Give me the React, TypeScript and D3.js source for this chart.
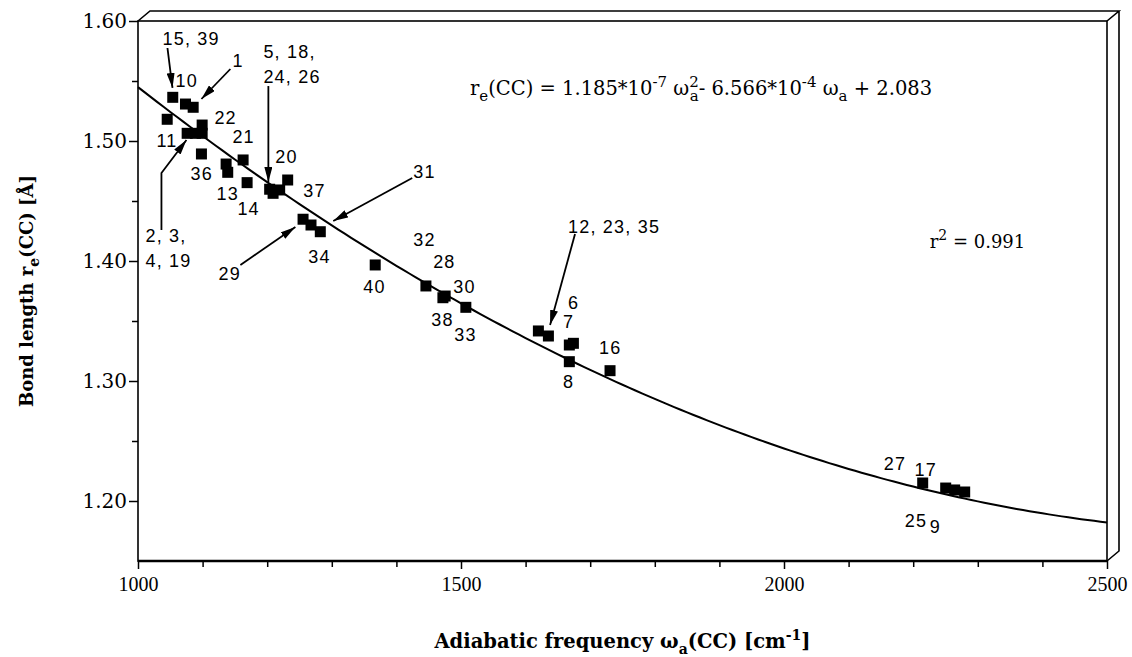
import { useEffect, useRef } from "react"
import * as d3 from "d3"

// adiabatic CC frequency [cm-1] and bond length re(CC) [Å]
const frequencies = [
  1053.8, 1073.5, 1085.4, 1045.2, 1099.3, 1076.1, 1088.9, 1099.3, 1098.2, 1136.4,
  1138.9, 1162.7, 1168.9, 1203.8, 1209.1, 1219.3, 1231.7, 1255.5, 1267.8, 1282.2,
  1367.2, 1445.7, 1472.0, 1475.5, 1507.5, 1619.8, 1635.3, 1667.7, 1674.0, 1667.7,
  1730.7, 2214.7, 2250.3, 2264.2, 2279.7,
]
const bondLengths = [
  1.5364, 1.5308, 1.5281, 1.5181, 1.5133, 1.5064, 1.5064, 1.5064, 1.4892, 1.4808,
  1.4739, 1.4842, 1.4653, 1.4598, 1.4564, 1.4592, 1.4675, 1.4348, 1.43, 1.4244,
  1.3967, 1.3792, 1.3694, 1.3708, 1.3614, 1.3417, 1.3375, 1.33, 1.3314, 1.3161,
  1.3086, 1.215, 1.2108, 1.2092, 1.2075,
]

// fit: re = a*w^2 + b*w + c
const fitA = 1.185e-7
const fitB = -6.566e-4
const fitC = 2.083

// point labels (left edge, baseline) in data units
const labelTexts = [
  "15, 39", "10", "1", "5, 18,", "24, 26", "22", "11", "21", "36", "20", "13", "14", "37",
  "2, 3,", "4, 19", "29", "34", "31", "32", "28", "40", "30", "38", "33", "12, 23, 35",
  "6", "7", "16", "8", "27", "17", "25", "9",
]
const labelFreq = [
  1037.9, 1058, 1146.1, 1194.1, 1194.1, 1118.3, 1028.6, 1146.1, 1081.2, 1212.6, 1121.4,
  1153.9, 1255.9, 1011.6, 1011.6, 1124.5, 1263.7, 1426.0, 1426.0, 1456.9, 1348.7, 1487.9,
  1453.9, 1489.5, 1665.7, 1665.7, 1658, 1713.7, 1658, 2154.3, 2202.2, 2186.8, 2225.5,
]
const labelBond = [
  1.58, 1.545, 1.5617, 1.5692, 1.5483, 1.5142, 1.495, 1.4983, 1.4675, 1.4817, 1.4508,
  1.4383, 1.4533, 1.4158, 1.395, 1.3842, 1.3983, 1.4692, 1.4125, 1.3942, 1.3733, 1.3733,
  1.3458, 1.3333, 1.4233, 1.36, 1.3442, 1.3225, 1.2942, 1.2258, 1.2208, 1.1783, 1.1733,
]

// arrows: [freq, bond] from tail to head
const arrows: [number, number][][] = [
  [[1045.6, 1.5775], [1053.4, 1.5442]],
  [[1143.0, 1.56], [1098.2, 1.535]],
  [[1201.8, 1.5458], [1201.8, 1.4658]],
  [[1036.3, 1.4258], [1036.3, 1.4733], [1075, 1.5008]],
  [[1158.5, 1.3967], [1243.6, 1.4283]],
  [[1424.5, 1.4692], [1302.3, 1.4333]],
  [[1676.5, 1.4225], [1637.9, 1.3467]],
]

const yMajor = [1.2, 1.3, 1.4, 1.5, 1.6]
const yMinor = [1.25, 1.35, 1.45, 1.55]
const xMajor = [1000, 1500, 2000, 2500]
const xMinor = d3.range(1100, 2500, 100).filter((v) => v % 500 !== 0)

const serif = "'DejaVu Serif', serif"
const sans = "'Liberation Sans', Arial, sans-serif"

type Part = { t: string; s?: number; f?: number; dx?: number }

function richText(sel: any, parts: Part[], size: number) {
  let prev = 0
  parts.forEach((p) => {
    const s = p.s || 0
    sel
      .append("tspan")
      .attr("dy", s - prev)
      .attr("dx", p.dx || 0)
      .attr("font-size", p.f || size)
      .text(p.t)
    prev = s
  })
}

export default function App() {
  const ref = useRef<SVGSVGElement>(null)

  useEffect(() => {
    if (!ref.current) return
    const svg = d3.select(ref.current)
    svg.selectAll("*").remove()

    const left = 138
    const right = 1107
    const top = 21
    const bottom = 561
    const dx = 12
    const dy = -10

    const x = d3.scaleLinear().domain([1000, 2500]).range([left, right])
    const y = d3.scaleLinear().domain([1.15, 1.6]).range([bottom, top])

    svg.append("rect").attr("width", 1132).attr("height", 657).attr("fill", "#fff")

    svg
      .append("defs")
      .append("marker")
      .attr("id", "head")
      .attr("viewBox", "0 0 15 8")
      .attr("refX", 15)
      .attr("refY", 4)
      .attr("markerWidth", 15)
      .attr("markerHeight", 8)
      .attr("markerUnits", "userSpaceOnUse")
      .attr("orient", "auto")
      .append("path")
      .attr("d", "M0,0 L15,4 L0,8 Z")
      .attr("fill", "#000")

    // 3D frame
    const frame = svg.append("g").attr("fill", "none").attr("stroke", "#000").attr("stroke-width", 1.6)
    frame.append("rect").attr("x", left).attr("y", top).attr("width", right - left).attr("height", bottom - top)
    frame
      .append("path")
      .attr(
        "d",
        `M${left},${top} L${left + dx},${top + dy} L${right + dx},${top + dy} L${right},${top}` +
          ` M${right + dx},${top + dy} L${right + dx},${bottom + dy} L${right},${bottom}`
      )
    frame
      .append("line")
      .attr("x1", left)
      .attr("x2", right)
      .attr("y1", bottom)
      .attr("y2", bottom)
      .attr("stroke-width", 2.4)

    // axes
    const yAxis = svg
      .append("g")
      .attr("transform", `translate(${left},0)`)
      .call(d3.axisLeft(y).tickValues(yMajor).tickSize(9).tickPadding(2).tickFormat(d3.format(".2f")))
    svg
      .append("g")
      .attr("transform", `translate(${left},0)`)
      .call(d3.axisLeft(y).tickValues(yMinor).tickSize(6).tickFormat(() => ""))
    const xAxis = svg
      .append("g")
      .attr("transform", `translate(0,${bottom})`)
      .call(d3.axisBottom(x).tickValues(xMajor).tickSize(8).tickPadding(8).tickFormat(d3.format("d")))
    svg
      .append("g")
      .attr("transform", `translate(0,${bottom})`)
      .call(d3.axisBottom(x).tickValues(xMinor).tickSize(6).tickFormat(() => ""))

    svg.selectAll(".domain").remove()
    svg.selectAll(".tick line").attr("stroke", "#000").attr("stroke-width", 1.5)
    yAxis.selectAll("text").attr("font-family", serif).attr("font-size", 20).attr("fill", "#000")
    xAxis
      .selectAll("text")
      .attr("font-family", "'Liberation Serif', serif")
      .attr("font-size", 20)
      .attr("fill", "#000")

    // fitted curve
    const curve = d3.range(1000, 2501, 10).map((w) => [w, fitA * w * w + fitB * w + fitC] as [number, number])
    svg
      .append("path")
      .datum(curve)
      .attr("fill", "none")
      .attr("stroke", "#000")
      .attr("stroke-width", 2)
      .attr("d", d3.line().x((d) => x(d[0])).y((d) => y(d[1])))

    // points
    const size = 11
    svg
      .append("g")
      .selectAll("rect")
      .data(frequencies)
      .enter()
      .append("rect")
      .attr("x", (d) => x(d) - size / 2)
      .attr("y", (d, i) => y(bondLengths[i]) - size / 2)
      .attr("width", size)
      .attr("height", size)
      .attr("fill", "#000")

    // arrows
    svg
      .append("g")
      .selectAll("path")
      .data(arrows)
      .enter()
      .append("path")
      .attr("fill", "none")
      .attr("stroke", "#000")
      .attr("stroke-width", 1.8)
      .attr("marker-end", "url(#head)")
      .attr("d", (d) => d3.line().x((p) => x(p[0])).y((p) => y(p[1]))(d))

    // point labels
    svg
      .append("g")
      .selectAll("text")
      .data(labelTexts)
      .enter()
      .append("text")
      .attr("x", (d, i) => x(labelFreq[i]))
      .attr("y", (d, i) => y(labelBond[i]))
      .attr("font-family", sans)
      .attr("font-size", 18)
      .attr("letter-spacing", 1.2)
      .attr("fill", "#000")
      .text((d) => d)

    // equation
    const eq = svg
      .append("text")
      .attr("x", x(1514))
      .attr("y", y(1.5383))
      .attr("font-family", serif)
      .attr("fill", "#000")
    richText(
      eq,
      [
        { t: "r" },
        { t: "e", s: 6, f: 15 },
        { t: "(CC) = 1.185*10" },
        { t: "-7", s: -8, f: 15 },
        { t: " ω" },
        { t: "2", s: -8, f: 15 },
        { t: "a", s: 6, f: 15, dx: -9 },
        { t: "- 6.566*10" },
        { t: "-4", s: -8, f: 15 },
        { t: " ω" },
        { t: "a", s: 6, f: 15 },
        { t: " + 2.083" },
      ],
      19.5
    )

    const r2 = svg
      .append("text")
      .attr("x", x(2225.5))
      .attr("y", y(1.4108))
      .attr("font-family", serif)
      .attr("fill", "#000")
    richText(r2, [{ t: "r" }, { t: "2", s: -8, f: 14 }, { t: " = 0.991" }], 18)

    // axis titles, centred on the plot area
    const xt = svg
      .append("text")
      .attr("x", (left + right) / 2)
      .attr("y", 648)
      .attr("text-anchor", "middle")
      .attr("font-family", serif)
      .attr("font-weight", "bold")
      .attr("fill", "#000")
    richText(
      xt,
      [
        { t: "Adiabatic frequency ω" },
        { t: "a", s: 6, f: 14 },
        { t: "(CC) [cm" },
        { t: "-1", s: -8, f: 14 },
        { t: "]", s: 0 },
      ],
      19.5
    )

    const yt = svg
      .append("text")
      .attr("transform", `translate(33,${(top + bottom) / 2}) rotate(-90)`)
      .attr("text-anchor", "middle")
      .attr("font-family", serif)
      .attr("font-weight", "bold")
      .attr("fill", "#000")
    richText(
      yt,
      [{ t: "Bond length r" }, { t: "e", s: 6, f: 14 }, { t: "(CC) [Å]", s: 0 }],
      18
    )
  }, [])

  return (
    <svg
      ref={ref}
      width={1132}
      height={657}
      style={{ position: "absolute", left: 0, top: 0, display: "block" }}
    />
  )
}
